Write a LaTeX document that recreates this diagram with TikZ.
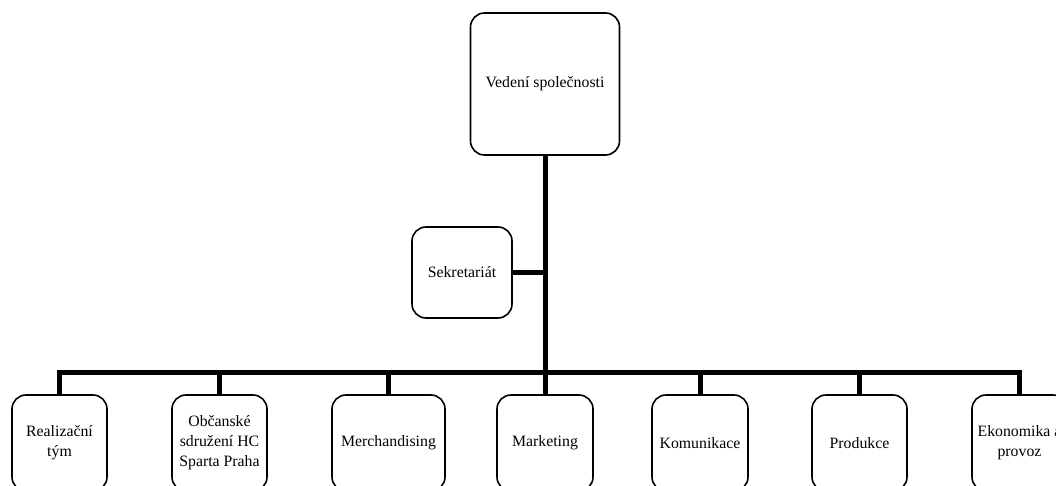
\documentclass[tikz,border=0pt]{standalone}
\usepackage{fontspec}
\setmainfont{Liberation Serif}
\begin{document}
\begin{tikzpicture}[x=1pt,y=-1pt,
  box/.style={draw=black, line width=1.6pt, rounded corners=14pt, fill=white,
    align=center, inner sep=0pt, font=\fontsize{15.8}{20}\selectfont},
  link/.style={draw=black, line width=5pt, line join=miter}]
\useasboundingbox (0,0) rectangle (1056,486);
\clip (0,0) rectangle (1056,486);
\node[box, minimum width=149pt, minimum height=142pt] (top) at (545,84) {Vedení společnosti};
\node[box, minimum width=100pt, minimum height=91pt] (sek) at (462,272.5) {Sekretariát};
\node[box, minimum width=95pt, minimum height=96pt] (real) at (59.5,443) {Realizační\\tým};
\node[box, minimum width=95pt, minimum height=96pt] (obc) at (219.5,443) {Občanské\\sdružení HC\\Sparta Praha};
\node[box, minimum width=113pt, minimum height=96pt] (merch) at (388.5,443) {Merchandising};
\node[box, minimum width=96pt, minimum height=96pt] (mark) at (545,443) {Marketing};
\node[box, minimum width=96pt, minimum height=96pt] (kom) at (700,443) {Komunikace};
\node[box, minimum width=95pt, minimum height=96pt] (prod) at (859.5,443) {Produkce};
\node[box, minimum width=95pt, minimum height=96pt] (ekon) at (1019.5,443) {Ekonomika a\\provoz};
\coordinate (j) at (545,372.5);
\coordinate (s) at (545,272.5);
\draw[link] (top) -- (mark);
\draw[link] (sek) -- (s);
\draw[link] (real) |- (j) -| (ekon);
\draw[link] (obc) -- (obc |- j);
\draw[link] (merch) -- (merch |- j);
\draw[link] (kom) -- (kom |- j);
\draw[link] (prod) -- (prod |- j);
\end{tikzpicture}
\end{document}
